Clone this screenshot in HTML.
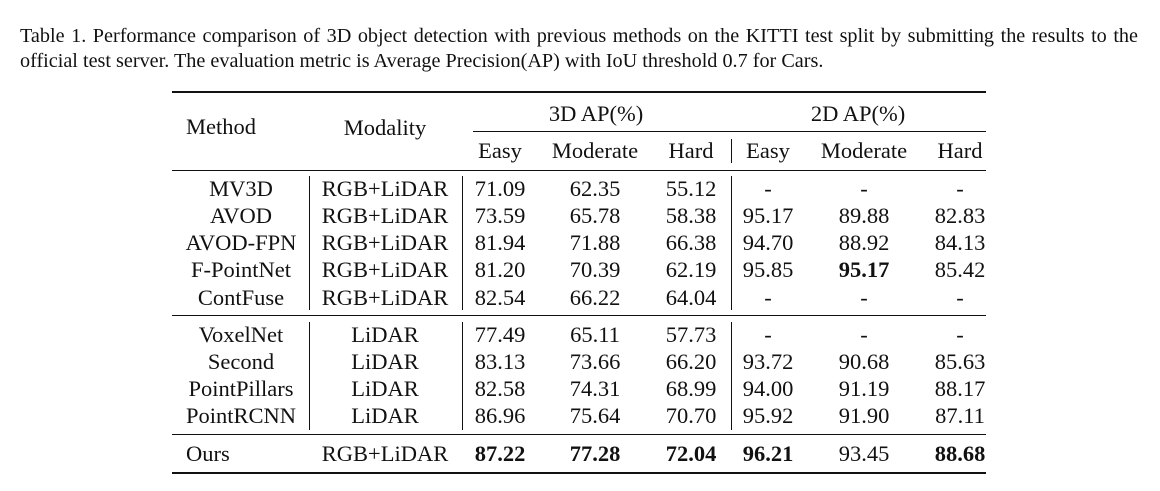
<!DOCTYPE html>
<html><head><meta charset="utf-8"><style>
body{margin:0;width:1160px;height:491px;background:#fff;position:relative;font-family:"Liberation Serif",serif;color:#111;overflow:hidden}
.c{position:absolute;font-size:22.5px;line-height:26px;white-space:nowrap;transform:translateX(-50%)}
.l{position:absolute;font-size:22.5px;line-height:26px;white-space:nowrap}
.b{font-weight:bold}
.h{position:absolute;background:#111}
.cap{position:absolute;left:20px;top:24px;font-size:20.2px;line-height:25px;width:1118px}
.cap div{text-align:justify;text-align-last:justify;white-space:nowrap}
</style></head><body>
<div class="cap"><div>Table 1. Performance comparison of 3D object detection with previous methods on the KITTI test split by submitting the results to the</div><span>official test server. The evaluation metric is Average Precision(AP) with IoU threshold 0.7 for Cars.</span></div>
<div class="h" style="left:172px;top:91px;width:814px;height:2px"></div>
<div class="h" style="left:473px;top:131px;width:513px;height:1px"></div>
<div class="h" style="left:172px;top:170px;width:814px;height:1px"></div>
<div class="h" style="left:172px;top:315px;width:814px;height:1px"></div>
<div class="h" style="left:172px;top:434px;width:814px;height:1px"></div>
<div class="h" style="left:172px;top:472px;width:814px;height:2px"></div>
<div class="h" style="left:309px;top:176px;width:1px;height:134px"></div>
<div class="h" style="left:462px;top:176px;width:1px;height:134px"></div>
<div class="h" style="left:731px;top:176px;width:1px;height:134px"></div>
<div class="h" style="left:309px;top:322px;width:1px;height:108px"></div>
<div class="h" style="left:462px;top:322px;width:1px;height:108px"></div>
<div class="h" style="left:731px;top:322px;width:1px;height:108px"></div>
<div class="h" style="left:731px;top:139px;width:1px;height:24px"></div>
<div class="l" style="left:186px;top:114px">Method</div>
<div class="c" style="left:385px;top:115px">Modality</div>
<div class="c" style="left:596px;top:101px">3D AP(%)</div>
<div class="c" style="left:858px;top:101px">2D AP(%)</div>
<div id="hdr"></div>
<div id="rows"></div>
<script>
const subHeaders=["Easy","Moderate","Hard","Easy","Moderate","Hard"];
const methods=["MV3D","AVOD","AVOD-FPN","F-PointNet","ContFuse","VoxelNet","Second","PointPillars","PointRCNN","Ours"];
const modality=["RGB+LiDAR","RGB+LiDAR","RGB+LiDAR","RGB+LiDAR","RGB+LiDAR","LiDAR","LiDAR","LiDAR","LiDAR","RGB+LiDAR"];
const vals=[
["71.09","62.35","55.12","-","-","-"],
["73.59","65.78","58.38","95.17","89.88","82.83"],
["81.94","71.88","66.38","94.70","88.92","84.13"],
["81.20","70.39","62.19","95.85","95.17","85.42"],
["82.54","66.22","64.04","-","-","-"],
["77.49","65.11","57.73","-","-","-"],
["83.13","73.66","66.20","93.72","90.68","85.63"],
["82.58","74.31","68.99","94.00","91.19","88.17"],
["86.96","75.64","70.70","95.92","91.90","87.11"],
["87.22","77.28","72.04","96.21","93.45","88.68"]];
const bold=[[3,4],[9,0],[9,1],[9,2],[9,3],[9,5]];
const colX=[500,595,691,768,864,960];
const rowY=[176,203,230,257,285,322,349,376,403,441];
const hdr=document.getElementById('hdr');
subHeaders.forEach((t,i)=>{const d=document.createElement('div');d.className='c';d.style.left=colX[i]+'px';d.style.top='138px';d.textContent=t;


hdr.appendChild(d);});
const rows=document.getElementById('rows');
methods.forEach((m,r)=>{
 const a=document.createElement('div');
 if(r===9){a.className='l';a.style.left='186px';}else{a.className='c';a.style.left='241px';}
 a.style.top=rowY[r]+'px';a.textContent=m;
 
 
 rows.appendChild(a);
 const b=document.createElement('div');b.className='c';b.style.left='385px';b.style.top=rowY[r]+'px';b.textContent=modality[r];
 
 
 rows.appendChild(b);
 vals[r].forEach((v,c)=>{const d=document.createElement('div');d.className='c';
  if(bold.some(p=>p[0]===r&&p[1]===c))d.classList.add('b');
  d.style.left=colX[c]+'px';d.style.top=rowY[r]+'px';d.textContent=v;
  
  
  rows.appendChild(d);});
});
</script>
</body></html>
